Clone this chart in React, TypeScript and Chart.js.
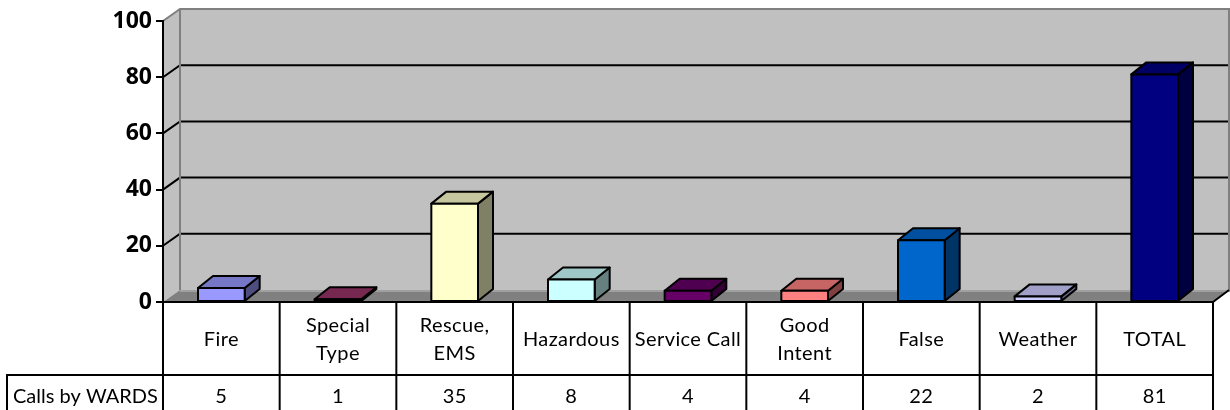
import React, { useEffect, useRef } from "react";
import { Chart, registerables } from "chart.js";

Chart.register(...registerables);

// ---- data ----
const categoryLines: string[][] = [
  ["Fire"],
  ["Special", "Type"],
  ["Rescue,", "EMS"],
  ["Hazardous"],
  ["Service Call"],
  ["Good", "Intent"],
  ["False"],
  ["Weather"],
  ["TOTAL"],
];
const categories = categoryLines.map((l) => l.join(" "));
const seriesName = "Calls by WARDS";
const values = [5, 1, 35, 8, 4, 4, 22, 2, 81];
const barColors = [
  "#9999FF",
  "#993366",
  "#FFFFCC",
  "#CCFFFF",
  "#660066",
  "#FF8080",
  "#0066CC",
  "#CCCCFF",
  "#000080",
];
const yTicks = [0, 20, 40, 60, 80, 100];

// ---- layout / style constants ----
const WALL_DX = 17;
const WALL_DY = 12;
const BAR_DX = 15;
const BAR_DY = 12;
const FONT = "Lato, 'Open Sans', sans-serif";
const TICK_FONT = "'Open Sans', Lato, sans-serif";

function shade(hex: string, f: number): string {
  const n = parseInt(hex.slice(1), 16);
  const r = Math.round(((n >> 16) & 255) * f);
  const g = Math.round(((n >> 8) & 255) * f);
  const b = Math.round((n & 255) * f);
  return `rgb(${r},${g},${b})`;
}

function poly(ctx: CanvasRenderingContext2D, pts: number[][], fill?: string, stroke?: string, lw = 2) {
  ctx.beginPath();
  ctx.moveTo(pts[0][0], pts[0][1]);
  for (let i = 1; i < pts.length; i++) ctx.lineTo(pts[i][0], pts[i][1]);
  ctx.closePath();
  if (fill) {
    ctx.fillStyle = fill;
    ctx.fill();
  }
  if (stroke) {
    ctx.strokeStyle = stroke;
    ctx.lineWidth = lw;
    ctx.stroke();
  }
}

function line(ctx: CanvasRenderingContext2D, pts: number[][], color: string, lw = 2) {
  ctx.beginPath();
  ctx.moveTo(pts[0][0], pts[0][1]);
  for (let i = 1; i < pts.length; i++) ctx.lineTo(pts[i][0], pts[i][1]);
  ctx.strokeStyle = color;
  ctx.lineWidth = lw;
  ctx.stroke();
}

const threeDPlugin = {
  id: "threeD",
  beforeDraw(chart: any) {
    const { ctx, chartArea: a, scales } = chart;
    const y = scales.y;
    const L = a.left, R = a.right, T = a.top, B = a.bottom;
    ctx.save();
    ctx.fillStyle = "#ffffff";
    ctx.fillRect(0, 0, chart.width, chart.height);
    ctx.lineJoin = "miter";
    // back wall
    poly(ctx, [[L + WALL_DX, T - WALL_DY], [R + WALL_DX, T - WALL_DY], [R + WALL_DX, B - WALL_DY], [L + WALL_DX, B - WALL_DY]], "#C0C0C0");
    // side wall
    poly(ctx, [[L, T], [L + WALL_DX, T - WALL_DY], [L + WALL_DX, B - WALL_DY], [L, B]], "#C0C0C0");
    // floor
    poly(ctx, [[L, B], [L + WALL_DX, B - WALL_DY], [R + WALL_DX, B - WALL_DY], [R, B]], "#808080");
    line(ctx, [[L + WALL_DX, B - WALL_DY + 1], [R + WALL_DX, B - WALL_DY + 1]], "#A0A0A0", 2);
    // gridlines
    yTicks.forEach((v) => {
      if (v <= y.min || v >= y.max) return;
      const py = y.getPixelForValue(v);
      line(ctx, [[L, py], [L + WALL_DX, py - WALL_DY], [R + WALL_DX, py - WALL_DY]], "#000000", 2);
    });
    // wall borders (gray)
    line(ctx, [[L, T], [L + WALL_DX, T - WALL_DY], [R + WALL_DX - 1, T - WALL_DY], [R + WALL_DX - 1, B - WALL_DY]], "#808080", 2);
    line(ctx, [[L + WALL_DX, T - WALL_DY], [L + WALL_DX, B - WALL_DY]], "#808080", 2);
    // floor outer edges
    line(ctx, [[R, B], [R + WALL_DX - 1, B - WALL_DY]], "#000000", 2);
    ctx.restore();
  },
  afterDatasetsDraw(chart: any) {
    const { ctx } = chart;
    const meta = chart.getDatasetMeta(0);
    ctx.save();
    ctx.lineJoin = "round";
    meta.data.forEach((bar: any, i: number) => {
      const p = bar.getProps(["x", "y", "base", "width"], true);
      const l = p.x - p.width / 2;
      const r = p.x + p.width / 2;
      const top = p.y;
      const base = p.base;
      const c = barColors[i];
      poly(ctx, [[r, top], [r + BAR_DX, top - BAR_DY], [r + BAR_DX, base - BAR_DY], [r, base]], shade(c, 0.5), "#000", 2);
      poly(ctx, [[l, top], [l + BAR_DX, top - BAR_DY], [r + BAR_DX, top - BAR_DY], [r, top]], shade(c, 0.78), "#000", 2);
      poly(ctx, [[l, top], [r, top], [r, base], [l, base]], c, "#000", 2);
    });
    ctx.restore();
  },
  afterDraw(chart: any) {
    const { ctx, chartArea: a, scales } = chart;
    const x = scales.x;
    const n = categories.length;
    const half = (x.getPixelForValue(1) - x.getPixelForValue(0)) / 2;
    const top = a.bottom;
    const mid = a.bottom + 73;
    const bot = chart.height + 4;
    ctx.save();
    // horizontal lines
    line(ctx, [[a.left, top], [a.right, top]], "#000", 2);
    line(ctx, [[7, mid], [a.right, mid]], "#000", 2);
    // verticals
    for (let i = 0; i <= n; i++) {
      const xb = i < n ? x.getPixelForValue(i) - half : x.getPixelForValue(n - 1) + half;
      line(ctx, [[xb, top], [xb, bot]], "#000", 2);
    }
    line(ctx, [[7, mid - 1], [7, bot]], "#000", 2);
    // header text
    ctx.fillStyle = "#000";
    ctx.font = `20px ${FONT}`;
    try {
      (ctx as any).letterSpacing = "0.4px";
    } catch (e) {}
    ctx.textAlign = "center";
    ctx.textBaseline = "alphabetic";
    categoryLines.forEach((lines, i) => {
      const cx = x.getPixelForValue(i);
      if (lines.length === 1) {
        ctx.fillText(lines[0], cx, top + 44);
      } else {
        ctx.fillText(lines[0], cx, top + 30);
        ctx.fillText(lines[1], cx, top + 58);
      }
      ctx.fillText(String(values[i]), cx, mid + 28);
    });
    try {
      (ctx as any).letterSpacing = "0px";
    } catch (e) {}
    ctx.textAlign = "left";
    ctx.fillText(seriesName, 13, mid + 28);
    ctx.restore();
  },
};

export default function App() {
  const ref = useRef<HTMLCanvasElement | null>(null);
  useEffect(() => {
    document.body.style.margin = "0";
    const canvas = ref.current!;
    const chart = new Chart(canvas, {
      type: "bar",
      data: {
        labels: categories,
        datasets: [
          {
            label: seriesName,
            data: values,
            backgroundColor: barColors,
            borderWidth: 0,
            barPercentage: 0.4,
            categoryPercentage: 1,
          },
        ],
      },
      options: {
        responsive: false,
        animation: false,
        devicePixelRatio: 1,
        layout: { padding: { left: 0, right: 17, top: 21, bottom: 108 } },
        plugins: { legend: { display: false }, tooltip: { enabled: false } },
        scales: {
          x: { display: false, offset: true },
          y: {
            min: 0,
            max: 100,
            afterFit: (s: any) => {
              s.width = 163;
            },
            ticks: {
              stepSize: 20,
              padding: 4,
              color: "#000",
              font: { family: TICK_FONT, size: 23, weight: "bold" },
            },
            grid: { drawOnChartArea: false, drawTicks: true, tickLength: 7, color: "#000", lineWidth: 2 },
            border: { display: true, color: "#000", width: 2 },
          },
        },
      },
      plugins: [threeDPlugin],
    });
    let alive = true;
    const fonts = (document as any).fonts;
    if (fonts && fonts.load) {
      Promise.all([fonts.load(`bold 23px 'Open Sans'`), fonts.load(`20px Lato`)]).then(() => {
        if (alive) chart.update();
      });
    }
    return () => {
      alive = false;
      chart.destroy();
    };
  }, []);
  return (
    <div style={{ position: "absolute", left: 0, top: 0 }}>
      <canvas ref={ref} width={1230} height={410} />
    </div>
  );
}
